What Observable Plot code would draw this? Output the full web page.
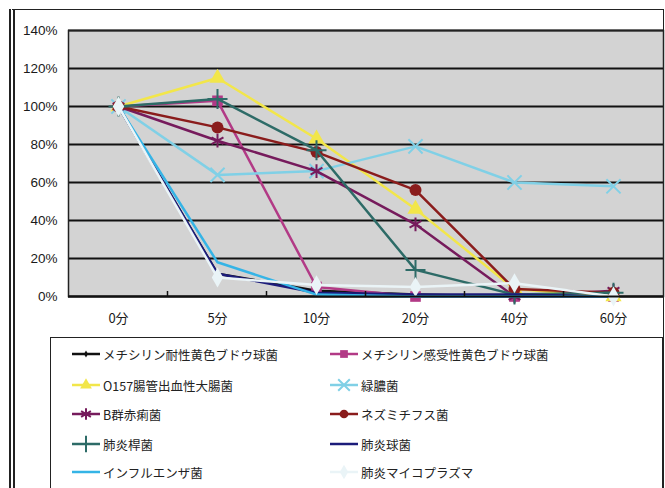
<!DOCTYPE html>
<html><head><meta charset="utf-8">
<script src="https://cdn.jsdelivr.net/npm/d3@7"></script>
<script src="https://cdn.jsdelivr.net/npm/@observablehq/plot@0.6"></script>
<style>
html,body{margin:0;padding:0;background:#fff}
body{width:665px;height:488px;overflow:hidden;position:relative;font-family:"Noto Sans CJK JP","Noto Sans",sans-serif}
#frame{position:absolute;left:9px;top:9px;width:648px;height:500px;border-top:1.5px solid #222;border-left:6px double #222;border-right:1.5px solid #222}
#chart{position:absolute;left:0;top:0}
#legend{position:absolute;left:50px;top:337px;width:611px;height:170px;border:1.5px solid #222;background:#fff}
.item{position:absolute;height:20px;display:flex;align-items:center;font-size:12.5px;color:#222;white-space:nowrap}
.item svg{margin-right:2px}
</style>
</head><body>
<div id="frame"></div>
<div id="chart"></div>
<div id="legend"></div>
<script>
const times = ["0分","5分","10分","20分","40分","60分"];
const yTicks = [0,20,40,60,80,100,120,140];

const names = ["メチシリン耐性黄色ブドウ球菌","メチシリン感受性黄色ブドウ球菌","O157腸管出血性大腸菌","緑膿菌","B群赤痢菌","ネズミチフス菌","肺炎桿菌","肺炎球菌","インフルエンザ菌","肺炎マイコプラズマ"];
const colors = ["#111111","#b23a86","#f2e64a","#80d0e6","#761b5c","#8a1c1c","#2d6b67","#1c1c7a","#35b4e6","#eaf4f7"];
const symbols = ["diamond","square","triangle","times","asterisk","circle","plus",null,null,"diamond"];

const mrsa      = [100, 12, 3, 1, 0, 0];
const mssa      = [100, 103, 5, 0, 0, 0];
const o157      = [100, 115, 83, 46, 4, 0];
const ryokunou  = [100, 64, 66, 79, 60, 58];
const sekiri    = [100, 82, 66, 38, 0, 3];
const nezumi    = [100, 89, 76, 56, 4, 2];
const kanKin    = [100, 104, 77, 14, 1, 2];
const kyuKin    = [100, 12, 2, 1, 1, 0];
const influenza = [100, 18, 1, 0, 0, 0];
const myco      = [100, 10, 6, 5, 7, 0];
const values = [mrsa, mssa, o157, ryokunou, sekiri, nezumi, kanKin, kyuKin, influenza, myco];

const series = names.map((name, i) => ({
  name, color: colors[i], symbol: symbols[i],
  rows: times.map((t, j) => ({t, v: values[i][j]}))
}));

const boundaryTicks = (index, scales, vals, dimensions) => {
  const g = document.createElementNS("http://www.w3.org/2000/svg", "g");
  const x = scales.x, y = scales.y;
  const y0 = y(0);
  for (let k = 0; k < times.length - 1; k++) {
    const xm = (x(times[k]) + x(times[k + 1])) / 2;
    const l = document.createElementNS("http://www.w3.org/2000/svg", "line");
    l.setAttribute("x1", xm); l.setAttribute("x2", xm);
    l.setAttribute("y1", y0); l.setAttribute("y2", y0 - 5);
    l.setAttribute("stroke", "#111"); l.setAttribute("stroke-width", 1.5);
    g.appendChild(l);
  }
  return g;
};

const marks = [
  Plot.frame({fill:"#d3d3d3", stroke:null}),
  Plot.gridY(yTicks, {stroke:"#111", strokeOpacity:1, strokeWidth:2}),
  Plot.frame({stroke:"#222", strokeWidth:1.5, fill:null}),
];
for (const s of series) {
  marks.push(Plot.line(s.rows, {x:"t", y:"v", stroke:s.color, strokeWidth:2.5}));
  if (s.symbol) {
    const strokeOnly = ["times","asterisk","plus"].includes(s.symbol);
    marks.push(Plot.dot(s.rows, strokeOnly
      ? {x:"t", y:"v", symbol:()=>s.symbol, stroke:s.color, strokeWidth:2, r:6.5}
      : {x:"t", y:"v", symbol:()=>s.symbol, fill:s.color, stroke:null, r: s.symbol==="diamond" ? (s.name===names[0]?3:6) : 6}));
  }
}
marks.push(boundaryTicks);
marks.push(Plot.ruleY([0], {stroke:"#111", strokeWidth:2}));
marks.push(Plot.axisY(yTicks, {tickSize:0, tickPadding:11, tickFormat:d=>d+"%", fontSize:13.5, fontFamily:"Liberation Sans", fill:"#1a1a1a", label:null}));
marks.push(Plot.axisX({tickSize:0, tickPadding:17, fontSize:13, fontFamily:"Noto Sans CJK JP", fill:"#1a1a1a", label:null}));

const chart = Plot.plot({
  width:665, height:336,
  marginLeft:68, marginRight:2, marginTop:30, marginBottom:40,
  style:{background:"transparent", overflow:"visible"},
  x:{type:"point", domain:times, padding:0.5},
  y:{domain:[0,140]},
  symbol:{type:"identity"},
  marks
});
document.getElementById("chart").appendChild(chart);

// legend
const legend = document.getElementById("legend");
const rowY = [6, 37, 66, 96, 124];
series.forEach((s, i) => {
  const col = i % 2, row = Math.floor(i / 2);
  const div = document.createElement("div");
  div.className = "item";
  div.style.left = (col ? 278 : 20) + "px";
  div.style.top = rowY[row] + "px";
  const svg = d3.create("svg").attr("width", 30).attr("height", 20);
  svg.append("line").attr("x1", 1).attr("x2", 29).attr("y1", 10).attr("y2", 10).attr("stroke", s.color).attr("stroke-width", 2.5);
  if (s.symbol) {
    const map = {diamond:d3.symbolDiamond, square:d3.symbolSquare, triangle:d3.symbolTriangle, times:d3.symbolTimes, asterisk:d3.symbolAsterisk, circle:d3.symbolCircle, plus:d3.symbolPlus};
    const strokeOnly = ["times","asterisk","plus"].includes(s.symbol);
    const size = s.symbol==="diamond" && i===0 ? 14 : (strokeOnly ? 90 : 60);
    const p = svg.append("path").attr("transform","translate(15,10)").attr("d", d3.symbol(map[s.symbol], size)());
    if (strokeOnly) p.attr("fill","none").attr("stroke", s.color).attr("stroke-width", 2);
    else p.attr("fill", s.color);
  }
  div.appendChild(svg.node());
  const span = document.createElement("span");
  span.textContent = s.name;
  div.appendChild(span);
  legend.appendChild(div);
});
</script>
</body></html>
